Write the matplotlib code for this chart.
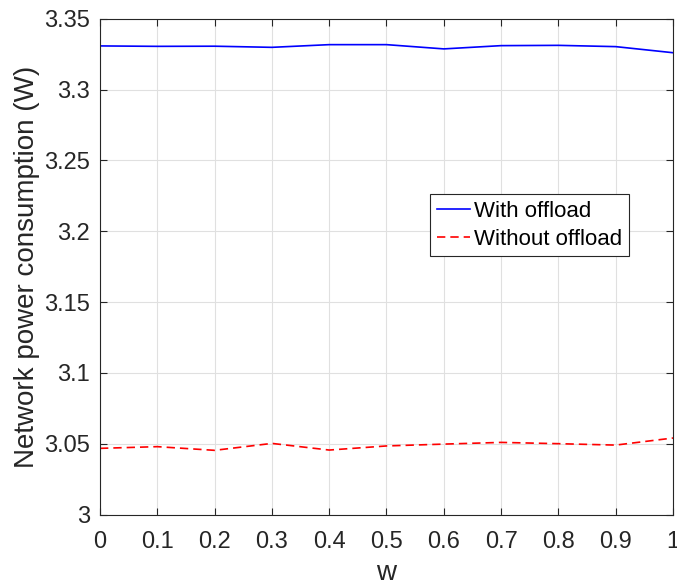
import matplotlib.pyplot as plt
import numpy as np

w = [0, 0.1, 0.2, 0.3, 0.4, 0.5, 0.6, 0.7, 0.8, 0.9, 1.0]
with_offload = [3.3308, 3.3305, 3.3306, 3.3298, 3.3317, 3.3317,
                3.3287, 3.3310, 3.3312, 3.3303, 3.3260]
without_offload = [3.0467, 3.0479, 3.0453, 3.0502, 3.0455, 3.0484,
                   3.0497, 3.0509, 3.0500, 3.0490, 3.0540]
xticks = np.arange(0, 1.01, 0.1)
xtick_labels = ['0', '0.1', '0.2', '0.3', '0.4', '0.5', '0.6', '0.7', '0.8', '0.9', '1']
yticks = [3, 3.05, 3.1, 3.15, 3.2, 3.25, 3.3, 3.35]
ytick_labels = ['3', '3.05', '3.1', '3.15', '3.2', '3.25', '3.3', '3.35']

plt.rcParams['font.family'] = ['Liberation Sans', 'DejaVu Sans']

fig = plt.figure(figsize=(6.77, 5.87), dpi=100)
ax = fig.add_axes([0.1477, 0.1235, 0.8464, 0.8446])

ax.plot(w, with_offload, '-', color='#0000ff', lw=1.2, label='With offload')
ax.plot(w, without_offload, '--', color='#ff0000', lw=1.2, dashes=(5, 3),
        label='Without offload')

ax.set_xlim(0, 1)
ax.set_ylim(3, 3.35)
ax.set_xticks(xticks)
ax.set_xticklabels(xtick_labels)
ax.set_yticks(yticks)
ax.set_yticklabels(ytick_labels)
ax.tick_params(direction='in', top=True, right=True, labelsize=17, length=5,
               color='#262626', labelcolor='#262626')
ax.tick_params(axis='x', pad=12)
ax.tick_params(axis='y', pad=7)
ax.grid(True, color='#e0e0e0', lw=0.8)
for s in ax.spines.values():
    s.set_color('#262626')
    s.set_linewidth(0.8)

ax.set_xlabel('w', fontsize=20, color='#262626', labelpad=5)
ax.set_ylabel('Network power consumption (W)', fontsize=20, color='#262626', labelpad=3)

leg = ax.legend(loc='upper left', bbox_to_anchor=(0.576, 0.646), fontsize=16,
                fancybox=False, framealpha=1, edgecolor='#262626',
                handlelength=1.5, handletextpad=0.2, borderpad=0.3,
                labelspacing=0.3, borderaxespad=0)
leg.get_frame().set_linewidth(0.8)

fig.savefig('out.png', dpi=100)
